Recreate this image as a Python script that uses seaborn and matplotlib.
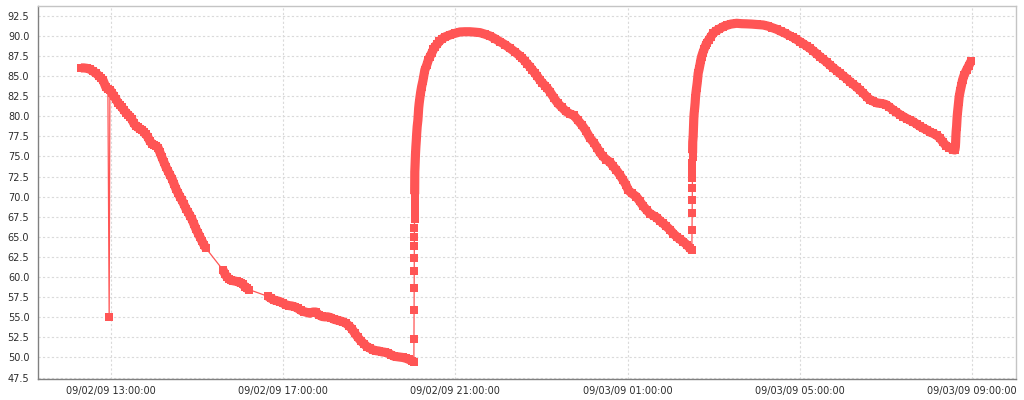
import pandas as pd
import matplotlib
matplotlib.use("Agg")
import matplotlib.pyplot as plt
import matplotlib.dates as mdates
from matplotlib.ticker import MultipleLocator, FormatStrFormatter
import seaborn as sns

# readings, minutes after 09/02/09 12:00
start = pd.Timestamp("2009-09-02 12:00:00")

minutes_a = [18.2, 22.4, 26.6, 30.7, 34.9, 39.1, 43.3, 46.1, 48.9, 53.0, 55.8]
values_a = [86.0, 86.0, 85.95, 85.85, 85.6, 85.35, 85.0, 84.75, 84.5, 83.6, 83.4]

# single low reading
minutes_spike = [57.6]
values_spike = [55.0]

# slow decline
minutes_b = [58.6, 61.4, 64.2, 67.0, 69.7, 72.5, 75.3, 78.1, 80.9, 83.7, 86.5, 89.2,
             92.0, 94.8, 97.6, 100.4, 103.2, 106.0, 108.7, 111.5, 114.3, 117.1, 119.9,
             122.7, 125.5, 128.3, 131.0, 133.8, 136.6, 139.4, 142.2, 145.0, 147.8,
             150.5, 153.3, 156.1, 158.9, 161.7, 164.5, 167.3, 170.1, 172.8, 175.6,
             178.4, 181.2, 184.0, 186.8, 189.6, 192.3]
values_b = [83.3, 82.9, 82.5, 82.1, 81.7, 81.4, 81.1, 80.75, 80.45, 80.2, 79.95, 79.6,
            79.1, 78.8, 78.6, 78.45, 78.3, 78.05, 77.75, 77.4, 76.9, 76.6, 76.45,
            76.3, 76.1, 75.5, 74.9, 74.3, 73.7, 73.2, 72.7, 72.25, 71.6,
            71.0, 70.5, 70.0, 69.55, 69.05, 68.5, 68.1, 67.65, 67.2, 66.6,
            66.0, 65.5, 65.0, 64.5, 64.0, 63.6]

minutes_c = [216.0, 218.8, 221.6, 224.4, 227.2, 229.9, 232.7, 235.5, 238.3, 241.1,
             243.9, 246.7, 249.4, 252.2]
values_c = [60.9, 60.4, 60.0, 59.8, 59.6, 59.55, 59.5, 59.45, 59.35, 59.3,
            59.1, 58.8, 58.6, 58.45]

minutes_d = [278.7, 282.9, 287.1, 291.3, 295.4, 299.6, 303.8, 308.0, 312.2, 316.3,
             320.5, 324.7, 328.9, 333.1, 337.2, 341.4, 345.6, 349.8, 354.0, 358.1,
             362.3, 366.5, 370.7, 374.9, 379.0, 383.2, 387.4, 391.6, 395.8, 399.9,
             404.1, 408.3, 412.5, 416.7, 420.8, 425.0, 429.2, 433.4, 437.6, 441.7,
             445.9, 450.1, 454.3, 458.5, 462.6, 466.8, 471.0, 475.2, 479.4, 482.1]
values_d = [57.6, 57.35, 57.15, 57.05, 56.95, 56.75, 56.55, 56.45, 56.4, 56.3,
            56.1, 55.85, 55.7, 55.6, 55.5, 55.65, 55.65, 55.3, 55.1, 55.05,
            55.05, 54.95, 54.75, 54.65, 54.55, 54.45, 54.25, 53.95, 53.55, 53.0,
            52.5, 52.05, 51.7, 51.35, 51.15, 50.95, 50.85, 50.8, 50.7, 50.65,
            50.55, 50.35, 50.15, 50.1, 50.05, 50.0, 49.9, 49.75, 49.6, 49.45]

# first heating: sparse jump, then the hump
minutes_rise1 = [482.2, 482.3, 482.4, 482.5, 482.6, 482.7, 482.8, 482.9, 483.0, 483.05,
                 483.1, 483.15]
values_rise1 = [52.3, 55.95, 58.7, 60.76, 62.4, 63.87, 65.03, 66.07, 67.2, 68.13,
                68.97, 69.6]

minutes_e = [483.2, 483.25, 483.3, 483.35, 483.4,
             483.5, 483.9, 484.3, 484.9, 485.5, 486.0, 486.7, 487.7, 488.3, 488.8,
             489.5, 490.5, 491.6, 492.9, 494.7, 496.1, 497.4, 500.2, 502.3, 504.4,
             507.2, 509.3, 511.4, 514.9, 517.6, 520.7, 525.3, 532.3, 539.2, 546.2,
             553.2, 560.1, 567.1, 574.1, 581.0, 588.0, 594.9, 601.9, 608.9, 615.9,
             622.8, 629.8, 633.3, 636.7, 640.2, 643.7, 647.2, 650.7, 654.2, 657.6,
             661.1, 664.6, 668.1, 671.6, 677.1, 682.7, 688.3, 693.9, 699.4, 705.0,
             710.6, 716.2, 721.7, 727.3, 732.9, 737.1, 741.2, 745.4, 750.3, 755.2,
             759.4, 764.2, 769.1, 773.3, 777.4, 780.9, 785.8, 792.1, 797.0, 801.8,
             806.7, 810.9, 816.5, 820.6, 824.8, 829.0, 833.9, 838.7, 843.6, 848.5,
             852.7, 857.5, 862.4, 866.6, 869.4]
values_e = [70.3, 71.0, 71.7, 72.4, 73.1,
            73.3, 74.2, 75.2, 76.2, 77.0, 77.8, 78.7, 79.5, 80.3, 81.0,
            81.6, 82.3, 83.0, 83.67, 84.4, 85.1, 85.75, 86.4, 87.0, 87.4,
            87.9, 88.3, 88.65, 89.0, 89.3, 89.57, 89.85, 90.1, 90.3, 90.47,
            90.5, 90.5, 90.45, 90.39, 90.2, 89.98, 89.65, 89.27, 88.9, 88.45,
            88.0, 87.49, 87.2, 86.85, 86.5, 86.16, 85.75, 85.35, 84.95, 84.5,
            84.15, 83.8, 83.45, 83.05, 82.3, 81.6, 81.1, 80.6, 80.3, 80.1,
            79.5, 78.9, 78.2, 77.3, 76.7, 76.1, 75.5, 75.0, 74.6, 74.3,
            73.8, 73.3, 72.7, 72.1, 71.5, 70.8, 70.4, 70.0, 69.4, 68.8,
            68.3, 67.9, 67.6, 67.4, 67.0, 66.7, 66.3, 65.9, 65.4, 65.0,
            64.7, 64.4, 64.0, 63.6, 63.35]

# second heating
minutes_rise2 = [869.6, 869.7, 869.8, 869.9, 870.0, 870.1, 870.2, 870.3]
values_rise2 = [65.86, 67.94, 69.6, 71.04, 72.29, 73.32, 74.15, 74.9]

minutes_f = [870.4, 870.5, 870.6, 871.2, 871.5, 871.8, 872.1, 872.6, 873.3, 874.0,
             874.4, 875.0, 875.9, 876.8, 877.5, 878.2, 879.6, 880.9, 881.9, 882.9,
             884.7, 886.8, 888.6, 889.9, 893.1, 895.9, 899.1, 902.8, 907.7, 913.0,
             918.2, 923.7, 931.7, 939.0, 946.0, 953.0, 960.0, 968.7, 975.3, 981.5,
             987.4, 993.4, 999.7, 1005.9]
values_f = [75.4, 76.1, 76.8, 77.46, 78.2, 78.9, 79.7, 80.37, 81.0, 81.7,
            82.3, 82.85, 83.5, 84.1, 84.7, 85.34, 85.9, 86.5, 87.0, 87.4,
            87.9, 88.4, 88.8, 89.07, 89.5, 89.9, 90.31, 90.6, 90.85, 91.13,
            91.3, 91.45, 91.55, 91.5, 91.48, 91.45, 91.4, 91.34, 91.2, 91.0,
            90.81, 90.55, 90.3, 90.0]

minutes_g = [1010.1, 1015.0, 1019.9, 1024.7, 1029.6, 1033.8, 1038.7, 1043.5, 1047.7,
             1052.6, 1057.5, 1061.6, 1066.5, 1071.4, 1075.6, 1080.4, 1085.3, 1089.5,
             1094.4, 1099.2, 1103.4, 1108.3, 1113.2, 1117.4, 1122.2, 1127.1, 1131.3,
             1135.5, 1139.6, 1144.5, 1149.4, 1154.3, 1159.2, 1164.0, 1168.9, 1173.1,
             1178.0, 1182.9, 1187.0, 1191.9, 1196.8, 1200.9, 1205.8, 1210.7, 1214.9,
             1219.0, 1223.2, 1228.1, 1233.0, 1235.8,
             1236.5, 1236.9, 1237.2, 1237.6, 1238.2, 1238.6, 1239.0, 1239.7, 1240.4,
             1241.1, 1241.8, 1243.2, 1244.9, 1246.5, 1248.7, 1252.1, 1255.3, 1258.1]
values_g = [89.8, 89.55, 89.27, 89.0, 88.7, 88.45, 88.1, 87.75, 87.4,
            87.05, 86.7, 86.37, 86.0, 85.65, 85.34, 85.0, 84.65, 84.3,
            83.95, 83.6, 83.26, 82.85, 82.4, 82.05, 81.85, 81.65, 81.6,
            81.55, 81.45, 81.15, 80.8, 80.5, 80.2, 79.95, 79.7, 79.5,
            79.3, 79.0, 78.75, 78.5, 78.3, 78.05, 77.85, 77.6, 77.3,
            76.8, 76.35, 76.1, 75.85, 75.8,
            76.2, 76.8, 77.46, 78.1, 78.7, 79.3, 79.94, 80.6, 81.2,
            81.8, 82.43, 83.1, 83.8, 84.5, 85.1, 85.75, 86.3, 86.8]

parts = [("a", minutes_a, values_a), ("spike", minutes_spike, values_spike),
         ("b", minutes_b, values_b), ("c", minutes_c, values_c),
         ("d", minutes_d, values_d), ("rise1", minutes_rise1, values_rise1),
         ("e", minutes_e, values_e), ("rise2", minutes_rise2, values_rise2),
         ("f", minutes_f, values_f), ("g", minutes_g, values_g)]

frames = []
for name, mins, vals in parts:
    frames.append(pd.DataFrame({"time": start + pd.to_timedelta(mins, unit="min"),
                                "value": vals, "part": name}))
df = pd.concat(frames, ignore_index=True)
dense = df[~df["part"].isin(["spike", "rise1", "rise2"])]

RED = "#ff5555"

sns.set_theme(style="white")
plt.rcParams["font.family"] = ["DejaVu Sans"]

fig = plt.figure(figsize=(10.24, 4.0), dpi=100)
ax = fig.add_axes([0.0368, 0.052, 0.9554, 0.933])

# dense readings merge into a thick band
sns.lineplot(data=dense, x="time", y="value", units="part", estimator=None,
             sort=False, color=RED, linewidth=6.6, solid_capstyle="butt",
             solid_joinstyle="round", ax=ax)
# all readings: thin connecting line with square markers
sns.lineplot(data=df, x="time", y="value", estimator=None, sort=False,
             color=RED, linewidth=0.9, marker="s", markersize=6,
             markeredgewidth=0, ax=ax)

ax.set_xlim(pd.Timestamp("2009-09-02 11:18"), pd.Timestamp("2009-09-03 10:01"))
ax.set_ylim(47.3, 93.7)
ax.xaxis.set_major_locator(mdates.HourLocator(byhour=[1, 5, 9, 13, 17, 21]))
ax.xaxis.set_major_formatter(mdates.DateFormatter("%m/%d/%y %H:%M:%S"))
ax.yaxis.set_major_locator(MultipleLocator(2.5))
ax.yaxis.set_major_formatter(FormatStrFormatter("%.1f"))

ax.set_xlabel("")
ax.set_ylabel("")
ax.set_axisbelow(True)
ax.grid(True, color="#dadada", linestyle=(0, (2, 2)), linewidth=0.8)

ax.tick_params(axis="both", which="major", labelsize=7, labelcolor="#2b2b2b",
               color="#808080", length=2, width=0.8, direction="out")
ax.tick_params(axis="y", pad=4)
ax.tick_params(axis="x", pad=3)

for side in ["left", "bottom"]:
    ax.spines[side].set_color("#808080")
    ax.spines[side].set_linewidth(1.0)
for side in ["top", "right"]:
    ax.spines[side].set_color("#c4c4c4")
    ax.spines[side].set_linewidth(1.0)

plt.savefig("out.png", dpi=100, facecolor="white")
